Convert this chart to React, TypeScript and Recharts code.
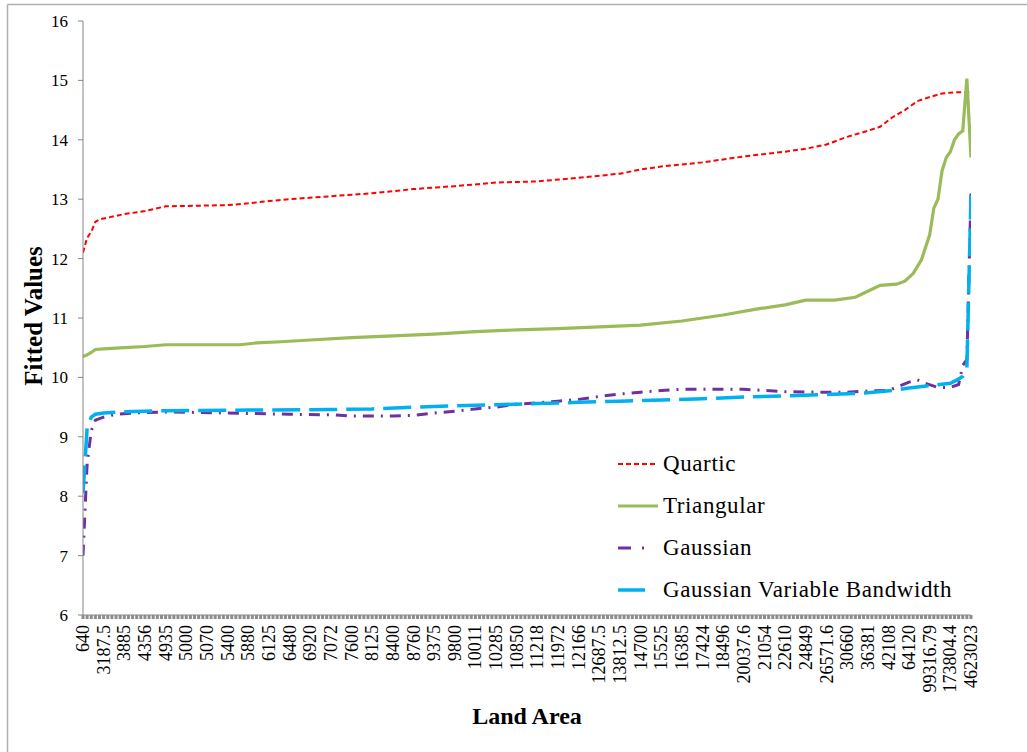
import React from 'react';
import { LineChart, Line, XAxis, YAxis } from 'recharts';

// Land area categories shown on the axis (every fifth observation is labelled)
const landAreaLabels = [
  '640', '3187.5', '3885', '4356', '4935', '5000', '5070', '5400', '5880', '6125',
  '6480', '6920', '7072', '7600', '8125', '8400', '8760', '9375', '9800', '10011',
  '10285', '10850', '11218', '11972', '12166', '12687.5', '13812.5', '14700', '15525', '16385',
  '17424', '18496', '20037.6', '21054', '22610', '24849', '26571.6', '30660', '36381', '42108',
  '64120', '99316.79', '173804.4', '4623023',
];
const LABEL_STEP = 5;
const CATEGORY_COUNT = (landAreaLabels.length - 1) * LABEL_STEP + 1;

const yTicks = [6, 7, 8, 9, 10, 11, 12, 13, 14, 15, 16];

// Fitted values by observation index
const quarticIdx = [0, 1, 2, 3, 4, 8, 10, 15, 20, 35, 40, 45, 50, 60, 70, 80, 90, 100, 110, 120, 130, 135, 140, 150, 160, 170, 175, 180, 185, 190, 193, 196, 199, 202, 205, 208, 211, 215];
const quarticVal = [12.1, 12.35, 12.45, 12.62, 12.66, 12.72, 12.75, 12.8, 12.88, 12.9, 12.93, 12.97, 13.0, 13.05, 13.1, 13.17, 13.22, 13.28, 13.3, 13.36, 13.43, 13.5, 13.55, 13.62, 13.72, 13.8, 13.85, 13.92, 14.05, 14.15, 14.22, 14.38, 14.5, 14.65, 14.72, 14.78, 14.8, 14.8];

const triangularIdx = [0, 1, 2, 3, 5, 10, 15, 20, 38, 42, 48, 55, 65, 75, 85, 95, 105, 115, 125, 135, 145, 155, 163, 170, 175, 182, 187, 190, 193, 197, 199, 201, 203, 205, 206, 207, 208, 209, 210, 211, 212, 213, 214, 215];
const triangularVal = [10.35, 10.38, 10.42, 10.47, 10.48, 10.5, 10.52, 10.55, 10.55, 10.58, 10.6, 10.63, 10.67, 10.7, 10.73, 10.77, 10.8, 10.82, 10.85, 10.88, 10.95, 11.05, 11.15, 11.22, 11.3, 11.3, 11.35, 11.45, 11.55, 11.57, 11.62, 11.75, 11.98, 12.4, 12.85, 13.0, 13.48, 13.7, 13.8, 14.0, 14.1, 14.15, 15.03, 13.7];

const gaussianIdx = [0, 1, 2, 3, 5, 8, 12, 20, 35, 50, 60, 65, 75, 80, 85, 90, 95, 100, 105, 110, 115, 120, 125, 130, 135, 140, 145, 155, 160, 165, 170, 180, 185, 190, 195, 200, 202, 204, 207, 210, 212, 213, 214, 215];
const gaussianVal = [7.0, 8.55, 9.1, 9.28, 9.33, 9.38, 9.4, 9.42, 9.4, 9.38, 9.37, 9.35, 9.35, 9.36, 9.4, 9.43, 9.47, 9.5, 9.55, 9.57, 9.6, 9.63, 9.68, 9.72, 9.75, 9.78, 9.8, 9.8, 9.8, 9.78, 9.76, 9.75, 9.75, 9.77, 9.78, 9.92, 9.96, 9.9, 9.83, 9.83, 9.88, 10.2, 10.3, 13.1];

const gaussianVbIdx = [0, 1, 2, 3, 5, 10, 20, 40, 60, 70, 80, 90, 100, 110, 120, 130, 140, 150, 160, 170, 180, 190, 196, 200, 205, 210, 212, 213, 214, 215];
const gaussianVbVal = [8.05, 9.15, 9.33, 9.38, 9.4, 9.42, 9.44, 9.45, 9.46, 9.47, 9.5, 9.52, 9.54, 9.56, 9.58, 9.6, 9.62, 9.64, 9.67, 9.69, 9.71, 9.74, 9.78, 9.82, 9.86, 9.9, 9.97, 10.02, 10.15, 13.07];

const toPoints = (idx: number[], vals: number[]) => idx.map((i, k) => ({ i, v: vals[k] }));

const SERIES = [
  { name: 'Quartic', color: '#FF0000', width: 2, dash: '5 3', data: toPoints(quarticIdx, quarticVal), legendDash: '5 3', legendLen: 40 },
  { name: 'Triangular', color: '#9BBB59', width: 3.2, dash: undefined, data: toPoints(triangularIdx, triangularVal), legendDash: undefined, legendLen: 40 },
  { name: 'Gaussian', color: '#7030A0', width: 3, dash: '11 7 2 7', data: toPoints(gaussianIdx, gaussianVal), legendDash: '13 11 2 30', legendLen: 28 },
  { name: 'Gaussian Variable Bandwidth', color: '#00B0F0', width: 3.5, dash: '28 9', data: toPoints(gaussianVbIdx, gaussianVbVal), legendDash: undefined, legendLen: 27 },
];

const FONT = "'Liberation Serif', 'Times New Roman', serif";
const AXIS_GRAY = '#868686';
const W = 1027;
const H = 752;
const PLOT_LEFT = 83;
const PLOT_RIGHT = 971;
const PLOT_TOP = 21;
const PLOT_BOTTOM = 615;

const categoryTicks = Array.from({ length: CATEGORY_COUNT }, (_, i) => i);

const CategoryTick = (props: any) => {
  const { x, payload } = props;
  const i = payload.value as number;
  const y0 = PLOT_BOTTOM;
  const label = i % LABEL_STEP === 0 ? landAreaLabels[i / LABEL_STEP] : null;
  const ly = y0 + 10;
  return (
    <g>
      <line x1={x} x2={x} y1={y0} y2={y0 + 4} stroke="#8c8c8c" strokeWidth={3} />
      {label !== null && (
        <text
          x={x}
          y={ly}
          transform={`rotate(-90 ${x} ${ly})`}
          textAnchor="end"
          dy="0.34em"
          fontFamily={FONT}
          fontSize={18}
          fill="#000"
        >
          {label}
        </text>
      )}
    </g>
  );
};

const LegendBox = () => (
  <svg width={380} height={180} style={{ position: 'absolute', left: 610, top: 440, overflow: 'visible' }}>
    {SERIES.map((s, k) => {
      const cy = 24 + k * 42;
      return (
        <g key={s.name}>
          <line
            x1={8}
            x2={8 + s.legendLen}
            y1={cy}
            y2={cy}
            stroke={s.color}
            strokeWidth={s.width}
            strokeDasharray={s.legendDash}
          />
          <text x={53} y={cy + 7} fontFamily={FONT} fontSize={23} letterSpacing={0.6} fill="#000">
            {s.name}
          </text>
        </g>
      );
    })}
  </svg>
);

export default function App() {
  return (
    <div style={{ position: 'absolute', left: 0, top: 0, width: W, height: H, overflow: 'hidden', background: '#fff' }}>
      <svg width={W} height={H} style={{ position: 'absolute', left: 0, top: 0 }}>
        <line x1={7.5} y1={4.5} x2={W} y2={4.5} stroke="#b0b0b0" strokeWidth={1.5} />
        <line x1={7.5} y1={4.5} x2={7.5} y2={H} stroke="#b0b0b0" strokeWidth={1.5} />
      </svg>
      <div style={{ position: 'absolute', left: 0, top: 0 }}>
        <LineChart
          width={W}
          height={H}
          margin={{ top: PLOT_TOP, right: W - PLOT_RIGHT, left: 0, bottom: 0 }}
        >
          <XAxis
            type="number"
            dataKey="i"
            domain={[0, CATEGORY_COUNT - 1]}
            ticks={categoryTicks}
            interval={0}
            tick={<CategoryTick />}
            tickLine={false}
            tickSize={0}
            height={H - PLOT_BOTTOM}
            axisLine={{ stroke: AXIS_GRAY }}
            allowDataOverflow
            label={{
              content: () => (
                <text x={(PLOT_LEFT + PLOT_RIGHT) / 2} y={724} textAnchor="middle" fontFamily={FONT} fontWeight="bold" fontSize={24} fill="#000">
                  Land Area
                </text>
              ),
            }}
          />
          <YAxis
            type="number"
            domain={[6, 16]}
            ticks={yTicks}
            interval={0}
            width={PLOT_LEFT}
            axisLine={{ stroke: AXIS_GRAY }}
            tickLine={{ stroke: AXIS_GRAY }}
            tickSize={5}
            tickMargin={10}
            tick={{ fontFamily: FONT, fontSize: 17, fill: '#000' }}
            label={{
              content: () => (
                <text x={42} y={316} transform="rotate(-90 42 316)" textAnchor="middle" fontFamily={FONT} fontWeight="bold" fontSize={25} fill="#000">
                  Fitted Values
                </text>
              ),
            }}
          />
          {SERIES.map((s) => (
            <Line
              key={s.name}
              data={s.data}
              dataKey="v"
              name={s.name}
              type="linear"
              stroke={s.color}
              strokeWidth={s.width}
              strokeDasharray={s.dash}
              dot={false}
              activeDot={false}
              isAnimationActive={false}
            />
          ))}
        </LineChart>
      </div>
      <LegendBox />
    </div>
  );
}
